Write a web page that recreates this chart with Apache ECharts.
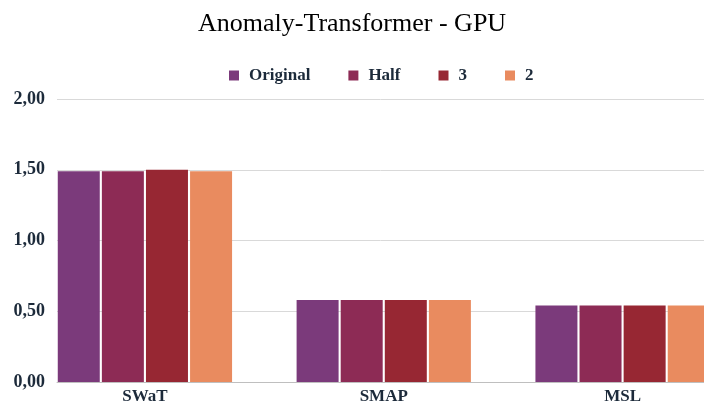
<!DOCTYPE html>
<html><head><meta charset="utf-8">
<script src="https://cdn.jsdelivr.net/npm/echarts@6/dist/echarts.min.js"></script>
<style>html,body{margin:0;padding:0;background:#fff;overflow:hidden}#c{width:742px;height:408px}</style>
</head><body><div id="c"></div>
<script>
const categories = ['SWaT', 'SMAP', 'MSL'];
const seriesNames = ['Original', 'Half', '3', '2'];
const valOriginal = [1.49, 0.58, 0.54];
const valHalf = [1.49, 0.58, 0.54];
const val3 = [1.50, 0.58, 0.54];
const val2 = [1.49, 0.58, 0.54];
const colors = ['#7B3A7B', '#8D2B55', '#972733', '#E98B5F'];
const yTicks = [0, 0.5, 1, 1.5, 2];

const font = '"Liberation Serif", "Times New Roman", serif';
const chart = echarts.init(document.getElementById('c'));
const allVals = [valOriginal, valHalf, val3, val2];
chart.setOption({
  animation: false,
  title: {
    text: 'Anomaly-Transformer - GPU', left: 193, top: 6,
    textStyle: { fontFamily: font, fontSize: 26, fontWeight: 'normal', color: '#000' }
  },
  legend: {
    top: 62, left: 224, icon: 'rect', itemWidth: 10, itemHeight: 10, itemGap: 38,
    textStyle: { fontFamily: font, fontSize: 17, fontWeight: 'bold', color: '#1c2a3a', padding: [0, 0, 0, 5] },
    data: seriesNames
  },
  grid: [
    { left: 25.5, right: 0, top: 99, bottom: 26 },
    { left: 57, right: 38, top: 99, bottom: 26 }
  ],
  xAxis: [
    { type: 'category', gridIndex: 0, data: categories,
      axisLine: { show: false }, axisTick: { show: false },
      axisLabel: { fontFamily: font, fontSize: 17, fontWeight: 'bold', color: '#1c2a3a', margin: 6 } },
    { type: 'category', gridIndex: 1, data: categories,
      axisLine: { show: true, lineStyle: { color: '#bfbfbf', width: 1 } },
      axisTick: { show: false }, axisLabel: { show: false } }
  ],
  yAxis: [
    { type: 'value', gridIndex: 0, min: yTicks[0], max: yTicks[yTicks.length - 1], interval: 0.5,
      splitLine: { show: false }, axisLine: { show: false }, axisTick: { show: false },
      axisLabel: { show: false } },
    { type: 'value', gridIndex: 1, min: yTicks[0], max: yTicks[yTicks.length - 1], interval: 0.5,
      splitLine: { show: true, lineStyle: { color: '#d9d9d9', width: 1 } },
      axisLine: { show: false }, axisTick: { show: false },
      axisLabel: { fontFamily: font, fontSize: 18, fontWeight: 'bold', color: '#1c2a3a', margin: 12,
        formatter: v => v.toFixed(2).replace('.', ',') } }
  ],
  series: seriesNames.map((n, i) => ({
    name: n, type: 'bar', xAxisIndex: 0, yAxisIndex: 0,
    data: allVals[i], barWidth: 42, barGap: '5%',
    itemStyle: { color: colors[i] }
  }))
});
</script></body></html>
